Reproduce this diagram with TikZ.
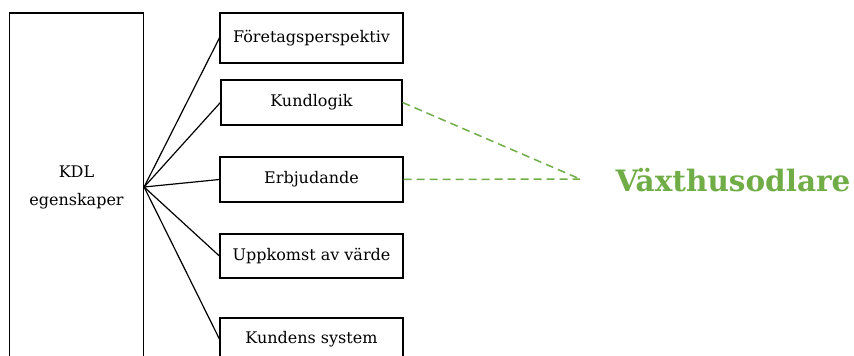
\documentclass[tikz,border=0pt]{standalone}
\usepackage{fontspec}
\setmainfont{DejaVu Serif}
\definecolor{leafgreen}{HTML}{70AD47}
\tikzset{
  itembox/.style={draw=black, line width=1.2pt, fill=white, minimum width=183pt,
    inner sep=0pt, font=\fontsize{16}{19}\selectfont},
  fanline/.style={draw=black, line width=1.2pt},
  greenlink/.style={draw=leafgreen, line width=1.5pt, dash pattern=on 8pt off 5pt},
}
\begin{document}
\begin{tikzpicture}[x=1pt, y=-1pt]
  \useasboundingbox (0,0) rectangle (854,356);
  % left property column
  \node[draw=black, line width=1.2pt, minimum width=134pt, minimum height=348pt,
        inner sep=0pt, align=center, font=\fontsize{16}{28}\selectfont]
        (kdl) at (76.5,187) {KDL\\egenskaper};
  \coordinate (hub) at (kdl.east);
  % property boxes
  \node[itembox, minimum height=50pt] (b1) at (311.5,38) {Företagsperspektiv};
  \node[itembox, minimum height=45pt, minimum width=181pt] (b2) at (311.5,102.5) {Kundlogik};
  \node[itembox, minimum height=45pt] (b3) at (311.5,179.5) {Erbjudande};
  \node[itembox, minimum height=44pt] (b4) at (311.5,256) {Uppkomst av värde};
  \node[itembox, minimum height=42pt] (b5) at (311.5,339) {Kundens system};
  % fan from the hub
  \foreach \b in {b1,b2,b3,b4,b5}
    \draw[fanline] (hub) -- (\b.west);
  % target label and dashed links
  \coordinate (meet) at (580,179);
  \node[text=leafgreen, font=\fontsize{29.5}{34}\selectfont\bfseries, inner sep=0pt]
        (crop) at (733,180) {Växthusodlare};
  \draw[greenlink] (b2.east) -- (meet);
  \draw[greenlink] (b3.east) -- (meet);
\end{tikzpicture}
\end{document}
